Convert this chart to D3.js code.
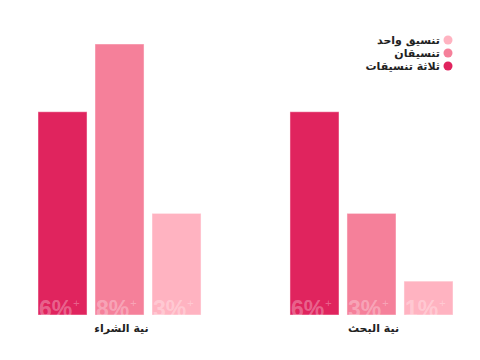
<!DOCTYPE html>
<html lang="ar">
<head>
<meta charset="utf-8">
<script src="https://cdn.jsdelivr.net/npm/d3@7"></script>
<style>
  body { margin: 0; background: #fff; }
  svg { display: block; font-family: "DejaVu Sans", Arial, sans-serif; }
</style>
</head>
<body>
<svg id="chart" width="480" height="360"></svg>
<script>
// groups and series
const groups = ["نية الشراء", "نية البحث"];
const series = ["ثلاثة تنسيقات", "تنسيقان", "تنسيق واحد"];
const values = [
  [6, 8, 3], // نية الشراء
  [6, 3, 1]  // نية البحث
];
const legendOrder = ["تنسيق واحد", "تنسيقان", "ثلاثة تنسيقات"];
const colors = ["#e0245e", "#f5809a", "#ffb3c1"];

const svg = d3.select("#chart");

const x0 = d3.scaleBand().domain(groups).range([38, 453]).paddingInner(0.353).paddingOuter(0);
const x1 = d3.scaleBand().domain(series).range([0, x0.bandwidth()]).paddingInner(0.14).paddingOuter(0);
const y = d3.scaleLinear().domain([0, 8]).range([315, 44]);
const color = d3.scaleOrdinal().domain(series).range(colors);

const g = svg.selectAll("g.group")
  .data(groups)
  .enter().append("g")
  .attr("class", "group")
  .attr("transform", d => "translate(" + x0(d) + ",0)");

const bars = g.selectAll("g.bar")
  .data((d, i) => series.map((s, j) => ({ s: s, v: values[i][j], id: "c" + i + j })))
  .enter().append("g")
  .attr("class", "bar");

// clip so the big label is cut at the bar bottom
bars.append("clipPath")
  .attr("id", d => d.id)
  .append("rect")
  .attr("x", d => x1(d.s))
  .attr("y", d => y(d.v))
  .attr("width", x1.bandwidth())
  .attr("height", d => y(0) - y(d.v));

bars.append("rect")
  .attr("x", d => x1(d.s))
  .attr("y", d => y(d.v))
  .attr("width", x1.bandwidth())
  .attr("height", d => y(0) - y(d.v))
  .attr("fill", d => color(d.s))
  .attr("stroke", "rgba(255,255,255,0.45)")
  .attr("stroke-width", 1);

// big faded value label at the bottom of each bar
const lab = bars.append("text")
  .attr("clip-path", d => "url(#" + d.id + ")")
  .attr("x", d => x1(d.s) + 1)
  .attr("y", y(0) + 2)
  .attr("fill", "rgba(255,255,255,0.3)")
  .style("font-family", "Liberation Sans, Arial, sans-serif")
  .style("font-size", "23px")
  .style("font-weight", "bold")
  .attr("direction", "ltr");
lab.append("tspan").text(d => d.v + "%");
lab.append("tspan")
  .attr("dx", 1)
  .attr("dy", -10)
  .style("font-size", "11px")
  .style("font-weight", "normal")
  .text("+");

// group labels
svg.selectAll("text.cat")
  .data(groups)
  .enter().append("text")
  .attr("class", "cat")
  .attr("x", d => x0(d) + x0.bandwidth() / 2 + 2)
  .attr("y", 332)
  .attr("text-anchor", "middle")
  .style("font-size", "11px")
  .style("font-weight", "bold")
  .attr("fill", "#222")
  .text(d => d);

// legend
const leg = svg.selectAll("g.leg")
  .data(legendOrder)
  .enter().append("g")
  .attr("class", "leg")
  .attr("transform", (d, i) => "translate(448," + (40 + i * 13) + ")");

leg.append("circle")
  .attr("r", 4.5)
  .attr("fill", d => color(d));

leg.append("text")
  .attr("x", -8)
  .attr("y", 0)
  .attr("dy", "0.35em")
  .attr("text-anchor", "end")
  .style("font-size", "11px")
  .style("font-weight", "bold")
  .attr("fill", "#222")
  .text(d => d);
</script>
</body>
</html>
